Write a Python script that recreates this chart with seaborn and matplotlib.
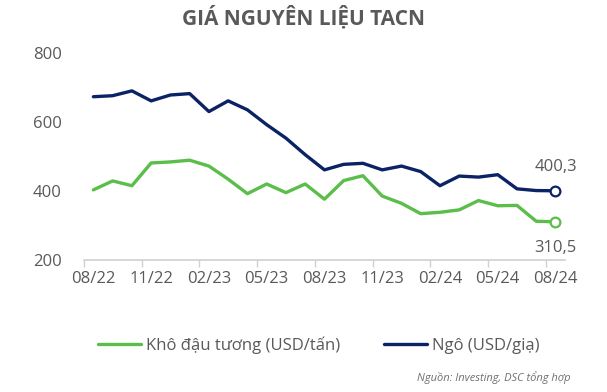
import matplotlib
matplotlib.use("Agg")
import matplotlib.pyplot as plt
import seaborn as sns
import pandas as pd
import numpy as np
from matplotlib.lines import Line2D

months = ["08/22", "09/22", "10/22", "11/22", "12/22", "01/23", "02/23", "03/23",
          "04/23", "05/23", "06/23", "07/23", "08/23", "09/23", "10/23", "11/23",
          "12/23", "01/24", "02/24", "03/24", "04/24", "05/24", "06/24", "07/24", "08/24"]
soymeal = [403, 429, 415, 481, 484, 489, 472, 434, 392, 420, 395, 420, 376,
           430, 444, 385, 364, 334, 338, 345, 372, 357, 358, 312, 310.5]
corn = [673, 676, 690, 661, 678, 682, 630, 661, 635, 592, 553, 505, 461,
        477, 480, 461, 472, 456, 415, 443, 440, 447, 406, 401, 400.3]
series_names = ["Khô đậu tương (USD/tấn)", "Ngô (USD/giạ)"]
colors = ["#5BBE4A", "#0B2265"]
tick_labels = months[::3]
end_labels = ["310,5", "400,3"]

sns.set_theme(style="white")
plt.rcParams["font.family"] = ["Open Sans", "DejaVu Sans"]

df = pd.DataFrame({
    "x": list(range(len(months))) * 2,
    "value": soymeal + corn,
    "series": [series_names[0]] * len(months) + [series_names[1]] * len(months),
})

fig = plt.figure(figsize=(6.07, 3.92), dpi=100)
ax = fig.add_axes([0.138, 0.337, 0.793, 0.528])

sns.lineplot(data=df, x="x", y="value", hue="series", palette=colors,
             linewidth=2.4, ax=ax, legend=False)

last = len(months) - 1
for vals, c in zip([soymeal, corn], colors):
    ax.plot([last], [vals[-1]], marker="o", markersize=7, markerfacecolor="white",
            markeredgecolor=c, markeredgewidth=1.6, linestyle="none", zorder=5)

textc = "#595959"
ax.text(last, soymeal[-1] - 75, end_labels[0], ha="center", va="center",
        fontsize=12, color=textc)
ax.text(last, corn[-1] + 68, end_labels[1], ha="center", va="center",
        fontsize=12, color=textc)

ax.set_xlim(-0.5, 24.5)
ax.set_ylim(200, 800)
ax.set_yticks([200, 400, 600, 800])
ax.set_xticks(list(range(0, len(months), 3)))
ax.set_xticklabels(tick_labels)
ax.set_xticks(list(np.arange(-0.5, 24, 3)), minor=True)
ax.tick_params(axis="x", which="major", length=0, pad=8, labelsize=12, labelcolor=textc)
ax.tick_params(axis="x", which="minor", length=5, width=1, color="#D0D0D0", bottom=True)
ax.tick_params(axis="y", length=0, pad=16, labelsize=12, labelcolor=textc)
ax.set_xlabel("")
ax.set_ylabel("")
for s in ["top", "right", "left"]:
    ax.spines[s].set_visible(False)
ax.spines["bottom"].set_color("#D0D0D0")
ax.spines["bottom"].set_linewidth(1.2)

fig.text(0.5, 0.955, "GIÁ NGUYÊN LIỆU TACN", ha="center", va="center",
         fontsize=15, fontweight="bold", color=textc)

handles = [Line2D([], [], color=c, linewidth=2.4) for c in colors]
fig.legend(handles, series_names, loc="center", bbox_to_anchor=(0.525, 0.12), ncol=2,
           frameon=False, fontsize=12, handlelength=2.6, handletextpad=0.3,
           columnspacing=2.6, labelcolor=textc)

fig.text(0.94, 0.037, "Nguồn: Investing, DSC tổng hợp", ha="right", va="center",
         fontsize=8, fontstyle="italic", color="#707070")

fig.savefig("out.png", dpi=100)
